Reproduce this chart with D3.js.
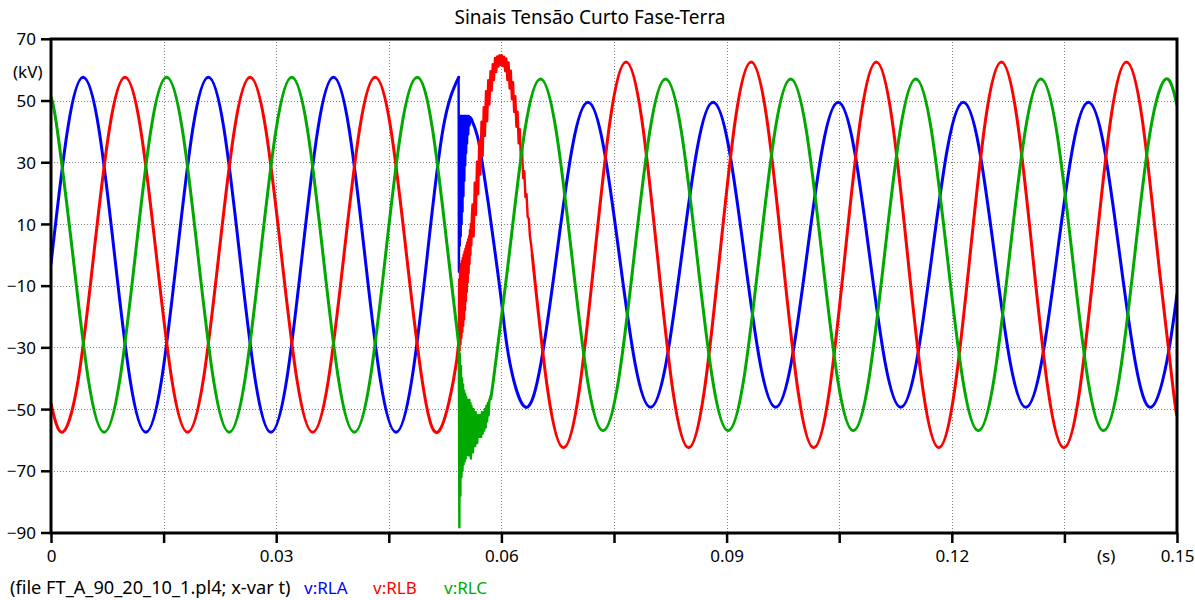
<!DOCTYPE html>
<html><head><meta charset="utf-8">
<script src="https://cdn.jsdelivr.net/npm/d3@7"></script>
<style>
html,body{margin:0;padding:0;background:#fff}
svg{display:block}
text{font-family:"Noto Sans","Liberation Sans",sans-serif}
</style>
</head><body>
<svg id="chart" width="1195" height="600"></svg>
<script>
// ---------- texts & ticks ----------
const chartTitle = "Sinais Tensão Curto Fase-Terra";
const yUnit = "(kV)";
const xUnit = "(s)";
const fileLabel = "(file FT_A_90_20_10_1.pl4; x-var t)";
const seriesNames = ["v:RLA", "v:RLB", "v:RLC"];
const seriesColors = ["#0000ff", "#ff0000", "#00a800"];
const yTickValues = [70, 50, 30, 10, -10, -30, -50, -70, -90];
const xTickValues = [0, 0.015, 0.03, 0.045, 0.06, 0.075, 0.09, 0.105, 0.12, 0.135, 0.15];
const xTickLabels = {"0":"0", "0.03":"0.03", "0.06":"0.06", "0.09":"0.09", "0.12":"0.12", "0.15":"0.15"};

// ---------- data: [time in ms, voltage in kV] ----------
// v:RLA (blue)
const rlaPre = [[0,-2.9],[2.217,40.7],[4.300,57.5],[6.383,40.7],[8.467,0],[10.550,-40.7],[12.633,-57.5],[14.717,-40.7],[16.800,0],[18.883,40.7],[20.967,57.5],[23.050,40.7],[25.133,0],[27.217,-40.7],[29.300,-57.5],[31.383,-40.7],[33.467,0],[35.550,40.7],[37.633,57.5],[39.717,40.7],[41.800,0],[43.883,-40.7],[45.967,-57.5],[48.050,-40.7],[50.133,0],[52.217,40.7],[54.300,57.5]];
const rlaFault = [[54.300,57.5],[54.340,-5.5],[54.400,44],[54.460,3],[54.520,45],[54.580,6],[54.640,45],[54.700,10],[54.760,45],[54.820,14],[54.880,45],[54.940,19],[55.000,45],[55.060,24],[55.120,45],[55.180,29],[55.240,45],[55.300,33],[55.360,45],[55.420,36],[55.500,45],[55.580,39],[55.660,45],[55.760,42],[55.880,44.6],[56.000,44]];
const rlaPost = [[56.000,44],[56.800,38.5],[57.500,29],[58.300,16],[59.200,0],[60.100,-17],[61.117,-34.9],[63.200,-49.4],[65.283,-34.9],[67.367,0],[69.450,34.9],[71.533,49.4],[73.617,34.9],[75.700,0],[77.783,-34.9],[79.867,-49.4],[81.950,-34.9],[84.033,0],[86.117,34.9],[88.200,49.4],[90.283,34.9],[92.367,0],[94.450,-34.9],[96.533,-49.4],[98.617,-34.9],[100.700,0],[102.783,34.9],[104.867,49.4],[106.950,34.9],[109.033,0],[111.117,-34.9],[113.200,-49.4],[115.283,-34.9],[117.367,0],[119.450,34.9],[121.533,49.4],[123.617,34.9],[125.700,0],[127.783,-34.9],[129.867,-49.4],[131.950,-34.9],[134.033,0],[136.117,34.9],[138.200,49.4],[140.283,34.9],[142.367,0],[144.450,-34.9],[146.533,-49.4],[148.617,-34.9],[150.000,-12.8]];

// v:RLB (red)
const rlbPre = [[0,-48.2],[1.527,-57.5],[3.610,-40.7],[5.693,0],[7.777,40.7],[9.860,57.5],[11.943,40.7],[14.027,0],[16.110,-40.7],[18.193,-57.5],[20.277,-40.7],[22.360,0],[24.443,40.7],[26.527,57.5],[28.610,40.7],[30.693,0],[32.777,-40.7],[34.860,-57.5],[36.943,-40.7],[39.027,0],[41.110,40.7],[43.193,57.5],[45.277,40.7],[47.360,0],[49.443,-40.7],[51.527,-57.5],[53.610,-40.7],[54.330,-28.3]];
const rlbFault = [[54.330,-28.3],[54.370,-8],[54.430,-31],[54.490,-5],[54.550,-29],[54.610,-3],[54.670,-27],[54.730,-2],[54.790,-25],[54.850,-1],[54.910,-23],[54.970,0],[55.030,-21],[55.090,1],[55.150,-18],[55.210,2],[55.270,-15],[55.330,3],[55.390,-12],[55.450,4],[55.510,-9],[55.570,5],[55.630,-6],[55.690,6],[55.750,-3],[55.810,8],[55.870,0],[55.930,10],[55.990,3],[56.060,12],[56.150,16.3],[56.300,5.9],[56.450,23.4],[56.600,12.9],[56.750,30.2],[56.900,19.6],[57.050,36.8],[57.200,26.0],[57.350,43.1],[57.500,32.0],[57.650,47.8],[57.800,38.5],[57.950,53.0],[58.100,43.3],[58.250,56.6],[58.400,48.7],[58.550,59.5],[58.700,53.2],[58.850,61.8],[59.000,56.6],[59.150,63.8],[59.300,59.2],[59.450,64.3],[59.600,61.0],[59.750,64.7],[59.900,61.5],[60.050,64.7],[60.200,61.2],[60.350,64.2],[60.500,59.5],[60.650,63.6],[60.800,56.6],[60.950,62.3],[61.100,53.9],[61.250,59.7],[61.400,50.4],[61.550,55.9],[61.700,46.3],[61.850,51.4],[62.000,41.5],[62.150,46.4],[62.300,36.1],[62.450,40.7],[62.600,30.7],[62.750,34.1],[62.900,24.8],[63.050,27.1],[63.200,18.7],[63.350,19.7],[63.500,12.3],[63.650,11.7],[63.800,6.1],[63.950,3.5],[64.103,0]];
const rlbPost = [[64.103,0],[66.187,-44.2],[68.270,-62.5],[70.353,-44.2],[72.437,0],[74.520,44.2],[76.603,62.5],[78.687,44.2],[80.770,0],[82.853,-44.2],[84.937,-62.5],[87.020,-44.2],[89.103,0],[91.187,44.2],[93.270,62.5],[95.353,44.2],[97.437,0],[99.520,-44.2],[101.603,-62.5],[103.687,-44.2],[105.770,0],[107.853,44.2],[109.937,62.5],[112.020,44.2],[114.103,0],[116.187,-44.2],[118.270,-62.5],[120.353,-44.2],[122.437,0],[124.520,44.2],[126.603,62.5],[128.687,44.2],[130.770,0],[132.853,-44.2],[134.937,-62.5],[137.020,-44.2],[139.103,0],[141.187,44.2],[143.270,62.5],[145.353,44.2],[147.437,0],[149.520,-44.2],[150.000,-51.5]];

// v:RLC (green)
const rlcPre = [[0,51.1],[0.823,40.7],[2.907,0],[4.990,-40.7],[7.073,-57.5],[9.157,-40.7],[11.240,0],[13.323,40.7],[15.407,57.5],[17.490,40.7],[19.573,0],[21.657,-40.7],[23.740,-57.5],[25.823,-40.7],[27.907,0],[29.990,40.7],[32.073,57.5],[34.157,40.7],[36.240,0],[38.323,-40.7],[40.407,-57.5],[42.490,-40.7],[44.573,0],[46.657,40.7],[48.740,57.5],[50.823,40.7],[52.907,0],[54.330,-29.4]];
const rlcFault = [[54.330,-29.4],[54.400,-88.3],[54.470,-32],[54.540,-78],[54.610,-36],[54.680,-72],[54.750,-40],[54.820,-70],[54.890,-42],[54.960,-68],[55.030,-44],[55.100,-67],[55.170,-45],[55.240,-66],[55.310,-46],[55.380,-65],[55.450,-47],[55.520,-64],[55.590,-48],[55.660,-65],[55.730,-47],[55.800,-63],[55.870,-48],[55.940,-66],[56.010,-49],[56.080,-62],[56.150,-50],[56.220,-64],[56.290,-50],[56.360,-61],[56.430,-51],[56.500,-62],[56.570,-51],[56.640,-60],[56.710,-52],[56.780,-61],[56.850,-52],[56.920,-59],[57.000,-52],[57.100,-59],[57.200,-52],[57.300,-59],[57.400,-51],[57.500,-58],[57.600,-51],[57.700,-57],[57.800,-50],[57.900,-56],[58.000,-49],[58.100,-54],[58.200,-48],[58.300,-52],[58.400,-47],[58.550,-46]];
const rlcPost = [[58.550,-46],[58.953,-40.3],[61.037,0],[63.120,40.3],[65.203,57],[67.287,40.3],[69.370,0],[71.453,-40.3],[73.537,-57],[75.620,-40.3],[77.703,0],[79.787,40.3],[81.870,57],[83.953,40.3],[86.037,0],[88.120,-40.3],[90.203,-57],[92.287,-40.3],[94.370,0],[96.453,40.3],[98.537,57],[100.620,40.3],[102.703,0],[104.787,-40.3],[106.870,-57],[108.953,-40.3],[111.037,0],[113.120,40.3],[115.203,57],[117.287,40.3],[119.370,0],[121.453,-40.3],[123.537,-57],[125.620,-40.3],[127.703,0],[129.787,40.3],[131.870,57],[133.953,40.3],[136.037,0],[138.120,-40.3],[140.203,-57],[142.287,-40.3],[144.370,0],[146.453,40.3],[148.537,57],[150.000,48.5]];

// ---------- drawing ----------
const svg = d3.select("#chart");
const W = 1195, H = 600;
const plot = {left: 51, right: 1177, top: 39, bottom: 533};

const x = d3.scaleLinear().domain([0, 0.15]).range([plot.left, plot.right]);
const y = d3.scaleLinear().domain([-90, 70]).range([532.5, 38.8]);

svg.append("rect").attr("width", W).attr("height", H).attr("fill", "#fff");

// grid
const gGrid = svg.append("g");
gGrid.selectAll("line.hg").data(yTickValues.filter(v => v > -90 && v < 70)).join("line")
  .attr("x1", plot.left).attr("x2", plot.right)
  .attr("y1", d => Math.round(y(d)) + 0.5).attr("y2", d => Math.round(y(d)) + 0.5)
  .attr("stroke", "#808080").attr("stroke-width", 1).attr("stroke-dasharray", "1,2");
gGrid.selectAll("line.vg").data(xTickValues.filter(v => v > 0 && v < 0.15)).join("line")
  .attr("y1", plot.top).attr("y2", plot.bottom)
  .attr("x1", d => Math.round(x(d)) + 0.5).attr("x2", d => Math.round(x(d)) + 0.5)
  .attr("stroke", "#808080").attr("stroke-width", 1).attr("stroke-dasharray", "1,2");

// clip
svg.append("clipPath").attr("id", "clip").append("rect")
  .attr("x", plot.left).attr("y", plot.top).attr("width", plot.right - plot.left).attr("height", plot.bottom - plot.top);

const gLines = svg.append("g").attr("clip-path", "url(#clip)");
const smooth = d3.line().x(d => x(d[0] / 1000)).y(d => y(d[1])).curve(d3.curveNatural);
const jagged = d3.line().x(d => x(d[0] / 1000)).y(d => y(d[1])).curve(d3.curveLinear);

const allSeries = [
  [rlaPre, rlaFault, rlaPost],
  [rlbPre, rlbFault, rlbPost],
  [rlcPre, rlcFault, rlcPost]
];
allSeries.forEach((segs, i) => {
  const g = gLines.append("g").attr("fill", "none").attr("stroke", seriesColors[i])
    .attr("stroke-width", 3).attr("stroke-linejoin", "round").attr("stroke-linecap", "round");
  g.append("path").attr("d", smooth(segs[0]));
  g.append("path").attr("d", jagged(segs[1])).attr("stroke-width", 2.4);
  g.append("path").attr("d", smooth(segs[2]));
});

// axes frame
svg.append("rect").attr("x", plot.left).attr("y", plot.top)
  .attr("width", plot.right - plot.left).attr("height", plot.bottom - plot.top)
  .attr("fill", "none").attr("stroke", "#000").attr("stroke-width", 3);

// y axis
const yAxis = d3.axisLeft(y).tickValues(yTickValues).tickSize(10).tickPadding(5).tickFormat(d3.format("d"));
const gy = svg.append("g").attr("transform", `translate(${plot.left},0)`).call(yAxis);
gy.select(".domain").remove();
gy.selectAll(".tick line").attr("stroke", "#000").attr("stroke-width", 2.5);
gy.selectAll(".tick text").attr("font-size", 17).attr("fill", "#000").attr("dy", "0.36em").attr("x", -15);

// x axis
const xAxis = d3.axisBottom(x).tickValues(xTickValues).tickSize(10).tickPadding(8)
  .tickFormat(d => xTickLabels[String(+d.toFixed(3))] || "");
const gx = svg.append("g").attr("transform", `translate(0,${plot.bottom})`).call(xAxis);
gx.select(".domain").remove();
gx.selectAll(".tick line").attr("stroke", "#000").attr("stroke-width", 2.5);
gx.selectAll(".tick text").attr("font-size", 17).attr("fill", "#000").attr("dy", null).attr("y", 29);

// titles / units
svg.append("text").attr("x", 590).attr("y", 24).attr("text-anchor", "middle")
  .attr("font-size", 19).attr("fill", "#000").text(chartTitle);
svg.append("text").attr("x", 13).attr("y", 78).attr("font-size", 17).attr("fill", "#000").text(yUnit);
svg.append("text").attr("x", 1097).attr("y", 562).attr("font-size", 17).attr("fill", "#000").text(xUnit);

// legend
svg.append("text").attr("x", 10).attr("y", 594).attr("font-size", 18.2).attr("fill", "#000").text(fileLabel);
const legendX = [304, 373, 444];
seriesNames.forEach((n, i) => {
  svg.append("text").attr("x", legendX[i]).attr("y", 594).attr("font-size", 17)
    .attr("fill", seriesColors[i]).text(n);
});
</script>
</body></html>
